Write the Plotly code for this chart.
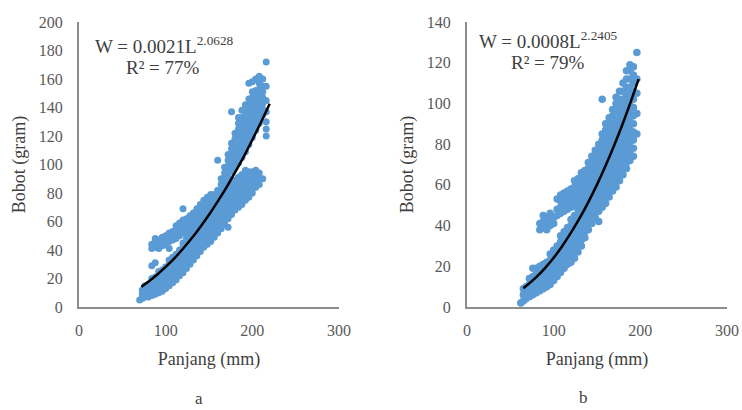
import plotly.graph_objects as go

# ---------------- Data ----------------
# Panel a: scatter columns (length mm -> list of weights g)
a_len_cols = [70, 73, 76, 80, 84, 88, 92, 96, 100, 104, 108, 112, 116, 120, 124, 128,
              132, 136, 140, 144, 148, 152, 156, 160, 164, 168, 172, 176, 180, 184,
              188, 192, 196, 200, 204, 208, 212, 216]
a_wt_cols = [
    [5],
    [6, 9, 12],
    [7, 10, 13, 15],
    [7, 10, 13, 16],
    [8, 11, 14, 17, 20, 29, 41, 44],
    [9, 12, 15, 18, 21, 31, 42, 45, 48],
    [10, 13, 16, 19, 22, 25, 41, 44, 47],
    [11, 14, 17, 20, 23, 26, 43, 46, 49],
    [13, 16, 19, 22, 25, 28, 44, 47, 50],
    [15, 18, 21, 24, 27, 30, 33, 41, 46, 49, 52],
    [17, 20, 23, 26, 29, 32, 35, 47, 50, 53],
    [19, 22, 25, 28, 31, 34, 37, 48, 51, 54, 57],
    [22, 25, 28, 31, 34, 37, 40, 50, 53, 56, 59],
    [24, 27, 30, 33, 36, 39, 42, 45, 52, 55, 58, 61, 69],
    [27, 30, 33, 36, 39, 42, 45, 48, 53, 56, 59, 62],
    [30, 33, 36, 39, 42, 45, 48, 51, 55, 58, 61, 64],
    [33, 36, 39, 42, 45, 48, 51, 54, 57, 60, 63, 66],
    [36, 39, 42, 45, 48, 51, 54, 57, 60, 63, 66, 69],
    [39, 42, 45, 48, 51, 54, 57, 60, 63, 66, 69, 72],
    [42, 45, 48, 51, 54, 57, 60, 63, 66, 69, 72, 75],
    [44, 47, 50, 53, 56, 59, 62, 65, 68, 71, 74, 77],
    [46, 49, 52, 55, 58, 61, 64, 67, 70, 73, 76, 79],
    [49, 52, 55, 58, 61, 64, 67, 70, 73, 76, 79],
    [52, 55, 58, 61, 64, 67, 70, 73, 76, 79, 82, 103],
    [55, 58, 61, 64, 67, 70, 73, 76, 79, 82, 86, 90],
    [58, 61, 64, 67, 70, 73, 76, 79, 82, 86, 90, 94, 98],
    [56, 62, 65, 68, 71, 74, 77, 80, 83, 87, 91, 95, 99, 103, 107],
    [65, 68, 71, 74, 77, 80, 83, 86, 95, 99, 103, 107, 111, 115, 137],
    [68, 71, 74, 77, 80, 83, 86, 89, 98, 102, 106, 110, 114, 118, 122],
    [70, 73, 76, 79, 82, 85, 88, 91, 101, 105, 109, 113, 117, 121, 125, 129, 133],
    [72, 75, 78, 81, 84, 87, 90, 93, 105, 109, 113, 117, 121, 125, 129, 133, 138],
    [75, 78, 81, 84, 87, 90, 93, 96, 109, 113, 117, 121, 125, 129, 133, 137, 142],
    [77, 80, 83, 86, 89, 92, 95, 114, 118, 122, 126, 130, 134, 138, 142, 146, 157],
    [80, 83, 86, 89, 92, 95, 119, 123, 127, 131, 135, 139, 143, 147, 151, 158],
    [84, 88, 92, 96, 124, 128, 132, 136, 140, 144, 148, 152, 160],
    [86, 90, 94, 129, 133, 137, 141, 145, 149, 153, 157, 162],
    [90, 135, 139, 143, 147, 151, 155, 160],
    [120, 125, 130, 137, 145, 155, 172],
]
# Panel a: fitted power curve W = 0.0021 L^2.0628
a_fit_len = [72, 80, 90, 100, 110, 120, 130, 140, 150, 160, 170, 180, 190, 200, 210, 220]
a_fit_wt = [14.2, 17.7, 22.6, 28.1, 34.1, 40.9, 48.2, 56.2, 64.7, 74.0, 83.7, 94.4,
            105.4, 117.3, 129.6, 142.6]

# Panel b
b_len_cols = [62, 65, 68, 72, 76, 80, 84, 88, 92, 96, 100, 104, 108, 112, 116, 120,
              124, 128, 132, 136, 140, 144, 148, 152, 156, 160, 164, 168, 172, 176,
              180, 184, 188, 192, 196]
b_wt_cols = [
    [2],
    [3, 6, 9],
    [4, 7, 10],
    [5, 8, 11, 14],
    [6, 9, 12, 15, 19],
    [7, 10, 13, 16, 19],
    [8, 11, 14, 17, 20, 38, 41],
    [9, 12, 15, 18, 21, 39, 42, 45],
    [10, 13, 16, 19, 22, 38, 41, 44],
    [11, 14, 17, 20, 23, 26, 40, 43, 46],
    [13, 16, 19, 22, 25, 28, 41, 44],
    [15, 18, 21, 24, 27, 30, 45, 48, 53],
    [17, 20, 23, 26, 29, 32, 35, 46, 49, 52, 55],
    [19, 22, 25, 28, 31, 34, 37, 47, 50, 53, 56],
    [21, 24, 27, 30, 33, 36, 39, 48, 51, 54, 57],
    [22, 25, 28, 31, 34, 37, 40, 43, 49, 52, 55, 58],
    [24, 27, 30, 33, 36, 39, 42, 45, 50, 53, 56, 59, 62],
    [27, 30, 33, 36, 39, 42, 45, 48, 51, 54, 57, 60, 63],
    [30, 33, 36, 39, 42, 45, 48, 51, 54, 57, 60, 63, 66],
    [34, 37, 40, 43, 46, 49, 52, 55, 58, 61, 64, 67],
    [38, 41, 44, 47, 50, 53, 56, 59, 62, 65, 68, 71],
    [41, 44, 47, 50, 53, 56, 59, 62, 65, 68, 71, 74],
    [44, 47, 50, 53, 56, 59, 62, 65, 68, 71, 74, 77],
    [42, 47, 50, 53, 56, 59, 62, 65, 68, 71, 74, 77, 80],
    [49, 52, 55, 58, 61, 64, 67, 70, 73, 76, 79, 82, 85, 102],
    [51, 54, 57, 60, 63, 66, 69, 72, 75, 78, 81, 84, 87, 90],
    [54, 57, 60, 63, 66, 69, 72, 75, 78, 81, 84, 87, 90, 93],
    [57, 60, 63, 66, 69, 72, 75, 78, 81, 84, 87, 90, 94, 97],
    [59, 62, 65, 68, 71, 74, 77, 80, 83, 86, 89, 92, 96, 100, 103],
    [62, 65, 68, 71, 74, 77, 80, 83, 86, 89, 92, 95, 98, 102, 106],
    [65, 68, 71, 74, 77, 80, 83, 86, 89, 92, 95, 99, 102, 106, 110],
    [68, 71, 74, 77, 80, 83, 86, 89, 92, 95, 98, 101, 104, 108, 112, 116],
    [72, 75, 78, 81, 84, 87, 90, 93, 96, 99, 102, 105, 108, 112, 116, 119],
    [74, 78, 82, 86, 90, 94, 98, 102, 106, 110, 114, 118],
    [85, 95, 105, 112, 125],
]
# Panel b: fitted power curve W = 0.0008 L^2.2405
b_fit_len = [65, 80, 90, 100, 110, 120, 130, 140, 150, 160, 170, 180, 190, 198]
b_fit_wt = [9.2, 14.7, 19.1, 24.2, 30.0, 36.5, 43.6, 51.5, 60.1, 69.5, 79.6, 90.4,
            102.1, 111.9]

x_ticks = [0, 100, 200, 300]
a_y_ticks = [0, 20, 40, 60, 80, 100, 120, 140, 160, 180, 200]
b_y_ticks = [0, 20, 40, 60, 80, 100, 120, 140]
eq_a = ["W = 0.0021L<sup>2.0628</sup>", "R² = 77%"]
eq_b = ["W = 0.0008L<sup>2.2405</sup>", "R² = 79%"]
panel_labels = ["a", "b"]


def flatten(len_cols, wt_cols):
    xs, ys = [], []
    for L, ws in zip(len_cols, wt_cols):
        for w in ws:
            xs.append(L)
            ys.append(w)
    return xs, ys


# ---------------- Figure ----------------
W_PX, H_PX = 742, 410
FONT = "Liberation Serif"
TXT = "#595959"
DARK = "#404040"
BLUE = "#5B9BD5"
AX = "#8c8c8c"

fig = go.Figure()

ax, ay = flatten(a_len_cols, a_wt_cols)
bx, by = flatten(b_len_cols, b_wt_cols)

fig.add_trace(go.Scatter(x=ax, y=ay, mode="markers", xaxis="x", yaxis="y",
                         marker=dict(color=BLUE, size=7, line=dict(width=0)),
                         showlegend=False, hoverinfo="skip"))
fig.add_trace(go.Scatter(x=a_fit_len, y=a_fit_wt, mode="lines", xaxis="x", yaxis="y",
                         line=dict(color="black", width=2.5, shape="spline"),
                         showlegend=False))
fig.add_trace(go.Scatter(x=bx, y=by, mode="markers", xaxis="x2", yaxis="y2",
                         marker=dict(color=BLUE, size=7.5, line=dict(width=0)),
                         showlegend=False, hoverinfo="skip"))
fig.add_trace(go.Scatter(x=b_fit_len, y=b_fit_wt, mode="lines", xaxis="x2", yaxis="y2",
                         line=dict(color="black", width=2.5, shape="spline"),
                         showlegend=False))

y_dom = [(H_PX - 307) / H_PX, (H_PX - 22) / H_PX]
xa_dom = [79 / W_PX, 339 / W_PX]
xb_dom = [467 / W_PX, 727 / W_PX]

common_x = dict(range=[0, 300], tickvals=x_ticks, showline=True, linecolor=AX, linewidth=2,
                showgrid=False, zeroline=False, ticks="", ticklabelstandoff=8,
                automargin=False,
                tickfont=dict(family=FONT, size=16, color=TXT),
                title=dict(text="Panjang (mm)", font=dict(family=FONT, size=18, color=DARK),
                           standoff=14))
common_y = dict(showline=True, linecolor=AX, linewidth=2, showgrid=False, zeroline=False,
                ticks="", ticklabelstandoff=11, automargin=False,
                tickfont=dict(family=FONT, size=16, color=TXT),
                title=dict(text="Bobot (gram)", font=dict(family=FONT, size=18, color=DARK),
                           standoff=8))

fig.update_layout(
    width=W_PX, height=H_PX,
    margin=dict(l=0, r=0, t=0, b=0, autoexpand=False),
    paper_bgcolor="white", plot_bgcolor="white",
    font=dict(family=FONT),
    xaxis=dict(domain=xa_dom, anchor="y", **common_x),
    yaxis=dict(domain=y_dom, anchor="x", range=[0, 200], tickvals=a_y_ticks, **common_y),
    xaxis2=dict(domain=xb_dom, anchor="y2", **common_x),
    yaxis2=dict(domain=y_dom, anchor="x2", range=[0, 140], tickvals=b_y_ticks, **common_y),
)

ann = []
ann.append(dict(text=eq_a[0], x=164 / W_PX, y=1 - 45 / H_PX))
ann.append(dict(text=eq_a[1], x=163 / W_PX, y=1 - 67 / H_PX))
ann.append(dict(text=eq_b[0], x=548 / W_PX, y=1 - 40 / H_PX))
ann.append(dict(text=eq_b[1], x=548 / W_PX, y=1 - 62 / H_PX))
for a in ann:
    a.update(xref="paper", yref="paper", showarrow=False, xanchor="center", yanchor="middle",
             font=dict(family=FONT, size=19, color=DARK))
    fig.add_annotation(**a)

fig.add_annotation(text=panel_labels[0], x=199 / W_PX, y=1 - 398 / H_PX, xref="paper",
                   yref="paper", showarrow=False, xanchor="center", yanchor="middle",
                   font=dict(family=FONT, size=17, color=DARK))
fig.add_annotation(text=panel_labels[1], x=583 / W_PX, y=1 - 397 / H_PX, xref="paper",
                   yref="paper", showarrow=False, xanchor="center", yanchor="middle",
                   font=dict(family=FONT, size=17, color=DARK))

fig.write_html("out.html",
               config={"displayModeBar": False},
               post_script="document.body.style.margin='0px';"
                           "document.body.style.overflow='hidden';")
